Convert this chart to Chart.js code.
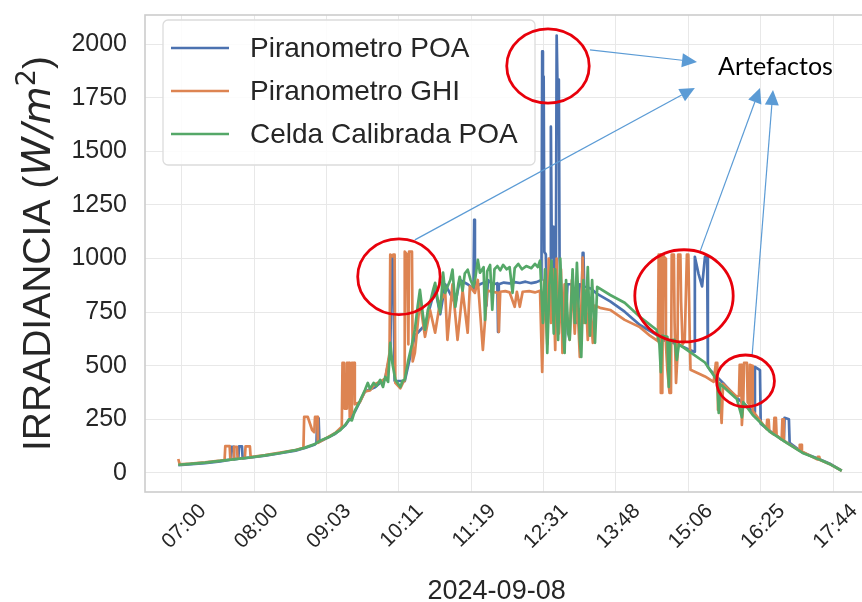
<!DOCTYPE html>
<html><head><meta charset="utf-8">
<script src="https://cdn.jsdelivr.net/npm/chart.js@4.4.1/dist/chart.umd.min.js"></script>
<style>html,body{margin:0;padding:0;background:#fff;overflow:hidden;width:862px;height:602px}canvas{display:block}</style>
</head><body><canvas id="c" width="880" height="602"></canvas>
<script>
// ---- data (x = sample index, y = W/m2) ----
const xTickLabels = ["07:00","08:00","09:03","10:11","11:19","12:31","13:48","15:06","16:25","17:44"];
const xTickIdx = [5,105,205,305,405,505,605,705,805,905];
const yTicks = [0,250,500,750,1000,1250,1500,1750,2000];
const seriesNames = ["Piranometro POA","Piranometro GHI","Celda Calibrada POA"];
const xTitle = "2024-09-08";
const annotationText = "Artefactos";

const poa = [[0,36],[37,46],[58,54],[72,62],[73,122],[76,122],[77,63],[83,66],[84,124],[88,124],[89,68],[120,80],[162,104],[175,116],[189,133],[191,140],[192,255],[194,255],[195,145],[217,183],[231,222],[244,285],[258,380],[272,400],[286,440],[293,560],[295,1010],[297,1010],[299,430],[313,428],[327,640],[341,690],[355,860],[362,740],[369,880],[383,790],[389,900],[400,880],[408,860],[409,1181],[410,860],[417,880],[424,890],[426,780],[428,900],[431,890],[436,880],[441,885],[442,658],[443,880],[450,888],[458,884],[465,890],[472,886],[480,892],[488,885],[495,890],[502,900],[503,1966],[504,1849],[505,1849],[506,1030],[508,1020],[510,700],[512,900],[514,1000],[515,1615],[516,1148],[518,1148],[519,950],[521,700],[522,1000],[523,2040],[524,1835],[526,1835],[527,1000],[529,880],[534,600],[538,880],[544,880],[550,700],[555,880],[558,870],[559,1027],[560,1027],[561,870],[570,860],[579,835],[597,800],[617,752],[638,690],[661,644],[665,640],[666,985],[669,985],[670,620],[690,600],[707,574],[713,565],[714,1008],[719,930],[724,870],[728,1008],[731,1008],[732,495],[735,480],[753,420],[772,350],[796,282],[797,495],[804,480],[805,230],[818,195],[837,150],[838,257],[844,250],[845,140],[863,95],[887,63],[900,44],[917,11]];

const ghi = [[0,65],[2,40],[17,43],[37,49],[58,57],[64,60],[65,125],[71,125],[72,62],[76,64],[77,122],[81,122],[82,66],[92,70],[93,124],[99,124],[100,74],[120,83],[162,107],[173,117],[174,261],[179,261],[185,200],[188,190],[189,261],[192,261],[193,140],[217,186],[226,215],[227,513],[229,513],[230,300],[232,300],[233,513],[236,513],[237,260],[239,280],[240,513],[243,513],[244,320],[251,330],[258,380],[265,385],[272,415],[279,425],[286,440],[292,560],[293,1018],[294,1018],[296,1010],[297,1018],[299,1018],[300,420],[307,395],[312,430],[313,1032],[316,1020],[318,600],[319,1032],[323,1032],[324,520],[327,560],[334,800],[341,635],[348,760],[355,654],[362,800],[369,840],[372,621],[379,880],[386,621],[393,850],[400,654],[403,870],[410,840],[414,900],[421,574],[427,850],[434,845],[442,840],[443,658],[445,845],[452,848],[458,842],[465,775],[468,845],[472,775],[476,845],[485,848],[493,842],[500,850],[503,471],[506,900],[510,600],[512,1000],[515,700],[518,950],[521,574],[523,1000],[526,650],[529,950],[531,560],[534,880],[538,700],[541,621],[544,900],[548,650],[551,850],[555,541],[558,880],[559,1004],[561,700],[563,850],[566,620],[569,800],[573,607],[576,780],[583,770],[597,760],[617,714],[638,680],[652,640],[663,615],[664,1018],[666,1018],[667,373],[669,373],[670,1018],[673,1000],[674,600],[676,480],[679,373],[681,373],[682,1018],[685,1018],[686,700],[688,420],[690,550],[691,1018],[694,1018],[695,800],[697,600],[700,615],[703,1018],[705,1018],[707,620],[708,481],[728,450],[740,425],[743,513],[745,513],[746,294],[748,420],[751,233],[753,415],[772,355],[775,360],[776,504],[778,504],[779,224],[781,340],[782,513],[786,513],[787,330],[789,320],[790,504],[793,500],[794,290],[813,205],[814,247],[816,247],[817,195],[823,180],[824,257],[826,257],[827,175],[834,155],[835,250],[836,250],[837,150],[858,105],[859,131],[861,131],[862,100],[883,63],[884,75],[886,75],[887,60],[900,42],[917,10]];

const cel = [[0,38],[17,42],[37,48],[58,56],[79,64],[99,72],[120,82],[141,93],[162,106],[175,118],[189,135],[196,150],[210,170],[217,185],[224,200],[231,225],[236,250],[240,245],[244,290],[251,335],[258,387],[262,420],[265,392],[270,420],[274,405],[279,434],[283,401],[286,448],[290,425],[293,607],[296,510],[300,434],[303,420],[307,401],[310,430],[313,434],[318,527],[323,600],[327,668],[331,780],[334,854],[338,740],[341,668],[345,760],[348,794],[352,850],[355,887],[359,800],[362,747],[366,934],[369,840],[372,868],[376,900],[379,948],[383,775],[387,880],[389,915],[393,850],[396,930],[400,948],[404,900],[408,868],[411,920],[414,994],[417,934],[422,960],[424,714],[427,940],[431,970],[434,761],[437,950],[441,965],[445,945],[449,970],[454,950],[458,960],[462,840],[465,955],[470,975],[475,950],[481,965],[488,955],[493,975],[497,960],[500,990],[504,700],[507,950],[510,560],[513,880],[516,990],[519,650],[521,950],[525,620],[528,1000],[531,700],[534,560],[536,900],[539,650],[541,621],[545,950],[548,700],[551,980],[555,620],[557,541],[560,900],[563,700],[566,960],[569,640],[572,900],[576,607],[579,868],[597,830],[617,794],[638,728],[661,668],[665,600],[667,470],[669,640],[676,635],[678,401],[680,620],[686,621],[689,527],[692,600],[707,565],[728,515],[745,430],[747,280],[749,415],[772,345],[779,260],[781,330],[794,270],[818,191],[841,140],[863,93],[887,61],[900,42],[917,10]];

// annotation anchors in data coordinates (sample index, W/m2)
const circles = [[511,1898,57,173],[305,915,57,177],[699,826,68,215],[784,429,40,121]];
const arrows = [[569,1973,717,1917],[327,1087,714,1796],[721,1031,804,1796],[793,541,822,1786]];
const labelAt = [746,1894];
const xTitleAt = 440;

// ---- styles ----
const FONT = "'Liberation Sans', Arial, sans-serif";
const COLORS = ['#4c72b0','#dd8452','#55a868'];
const TXT = '#262626';
const toXY = a => a.map(p => ({x:p[0], y:p[1]}));

const framePlugin = {id:'frame', beforeDatasetsDraw(chart){
  const {ctx, chartArea:a} = chart; ctx.save(); ctx.strokeStyle='#cccccc'; ctx.lineWidth=1.6;
  ctx.strokeRect(a.left,a.top,a.right-a.left,a.bottom-a.top); ctx.restore(); }};

const legendPlugin = {id:'lgd', afterDatasetsDraw(chart){
  const {ctx, chartArea:a} = chart; const bx=a.left+18, by=a.top+5, bw=372, bh=145;
  ctx.save(); ctx.beginPath(); ctx.roundRect(bx,by,bw,bh,5);
  ctx.fillStyle='rgba(255,255,255,0.85)'; ctx.fill(); ctx.strokeStyle='#dcdcdc'; ctx.lineWidth=1.3; ctx.stroke();
  chart.data.datasets.forEach((ds,i)=>{
    const y = by+28+i*43;
    ctx.beginPath(); ctx.moveTo(bx+8,y); ctx.lineTo(bx+66,y); ctx.strokeStyle=ds.borderColor; ctx.lineWidth=2.6; ctx.stroke();
    ctx.fillStyle=TXT; ctx.font='28px '+FONT; ctx.textBaseline='middle'; ctx.textAlign='left';
    ctx.fillText(ds.label, bx+87, y+1);
  });
  ctx.restore(); }};

const titlesPlugin = {id:'titles', afterDraw(chart){
  const {ctx, chartArea:a} = chart; const cy=(a.top+a.bottom)/2;
  const segs = [['IRRADIANCIA (', '39px '+FONT, 0], ['W/m', "italic 39px 'DejaVu Sans'", 0], ['2', "27px 'DejaVu Sans'", -15], [')', '39px '+FONT, 0]];
  ctx.save(); ctx.translate(36, cy); ctx.rotate(-Math.PI/2); ctx.fillStyle=TXT; ctx.textBaseline='alphabetic'; ctx.textAlign='left';
  let total=0; segs.forEach(s=>{ctx.font=s[1]; total+=ctx.measureText(s[0]).width;});
  let x=-total/2;
  segs.forEach(s=>{ctx.font=s[1]; ctx.fillText(s[0], x, 14+s[2]); x+=ctx.measureText(s[0]).width;});
  ctx.restore();
  ctx.save(); ctx.fillStyle=TXT; ctx.font='27px '+FONT; ctx.textAlign='center'; ctx.textBaseline='alphabetic';
  ctx.fillText(xTitle, chart.scales.x.getPixelForValue(xTitleAt), 599);
  ctx.restore(); }};

const annotPlugin = {id:'annot', afterDraw(chart){
  const {ctx} = chart; const sx=chart.scales.x, sy=chart.scales.y;
  const px=v=>sx.getPixelForValue(v), py=v=>sy.getPixelForValue(v);
  ctx.save();
  ctx.strokeStyle='#5b9bd5'; ctx.fillStyle='#5b9bd5'; ctx.lineWidth=1.2;
  arrows.forEach(r=>{
    const x1=px(r[0]), y1=py(r[1]), x2=px(r[2]), y2=py(r[3]);
    const ang=Math.atan2(y2-y1,x2-x1), L=15, W=7;
    const bxp=x2-L*Math.cos(ang), byp=y2-L*Math.sin(ang);
    ctx.beginPath(); ctx.moveTo(x1,y1); ctx.lineTo(bxp,byp); ctx.stroke();
    ctx.beginPath(); ctx.moveTo(x2,y2);
    ctx.lineTo(bxp+W*Math.sin(ang), byp-W*Math.cos(ang));
    ctx.lineTo(bxp-W*Math.sin(ang), byp+W*Math.cos(ang)); ctx.closePath(); ctx.fill();
  });
  ctx.strokeStyle='#e8000b'; ctx.lineWidth=2.8;
  circles.forEach(c=>{
    const cx=px(c[0]), cy=py(c[1]); const rx=Math.abs(px(c[0]+c[2])-cx), ry=Math.abs(py(c[1]+c[3])-cy);
    ctx.beginPath(); ctx.ellipse(cx,cy,rx,ry,0,0,Math.PI*2); ctx.stroke();
  });
  ctx.fillStyle='#000'; ctx.font="25px Lato, 'Liberation Sans', sans-serif"; ctx.textBaseline='middle'; ctx.textAlign='left';
  ctx.fillText(annotationText, px(labelAt[0]), py(labelAt[1]));
  ctx.restore(); }};

const mk = (i, data, order) => ({label:seriesNames[i], data:toXY(data), borderColor:COLORS[i], backgroundColor:COLORS[i],
  borderWidth:2.7, pointRadius:0, tension:0, fill:false, order, borderJoinStyle:'round'});

new Chart(document.getElementById('c'), {
  type:'line',
  data:{datasets:[mk(0,poa,3), mk(1,ghi,2), mk(2,cel,1)]},
  options:{
    responsive:false, animation:false, devicePixelRatio:1,
    layout:{padding:{top:15,right:5,left:0,bottom:0}},
    plugins:{legend:{display:false}, tooltip:{enabled:false}},
    scales:{
      x:{type:'linear', min:-46, max:963,
        afterBuildTicks:s=>{s.ticks = xTickIdx.map(v=>({value:v}));},
        afterFit:s=>{s.height=110; s.paddingLeft=0; s.paddingRight=0; s.paddingTop=0; s.paddingBottom=0;},
        ticks:{autoSkip:false, minRotation:45, maxRotation:45, padding:7, labelOffset:21, color:TXT,
          font:{family:FONT,size:21}, callback:(v,i)=>xTickLabels[i]},
        grid:{color:'#e8e8e8', lineWidth:1, drawTicks:false}, border:{display:false},
        title:{display:false}
      },
      y:{type:'linear', min:-89, max:2136,
        afterBuildTicks:s=>{s.ticks = yTicks.map(v=>({value:v}));},
        afterFit:s=>{s.width=145; s.paddingTop=0; s.paddingBottom=0; s.paddingLeft=0; s.paddingRight=0;},
        ticks:{padding:18, color:TXT, font:{family:FONT,size:25}, callback:v=>String(v)},
        grid:{color:'#e8e8e8', lineWidth:1, drawTicks:false}, border:{display:false}
      }
    }
  },
  plugins:[framePlugin, legendPlugin, annotPlugin, titlesPlugin]
});
</script></body></html>
